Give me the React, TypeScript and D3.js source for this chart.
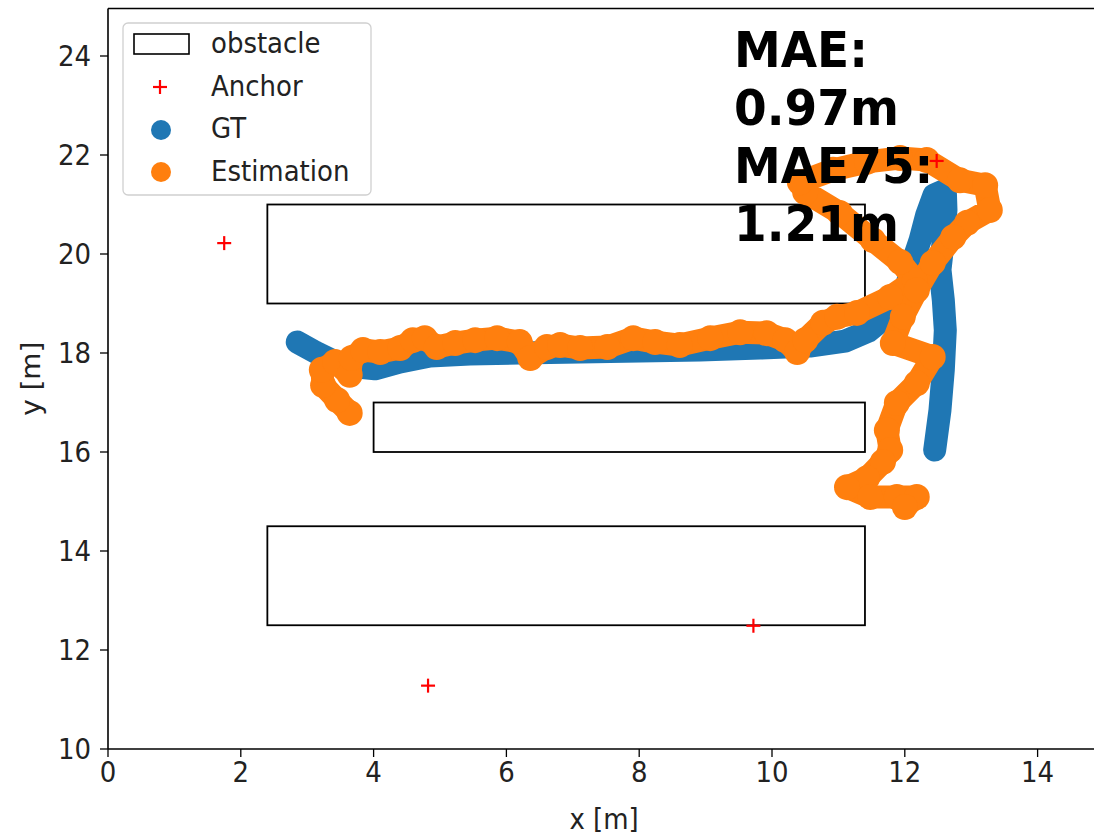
import React from "react";
import * as d3 from "d3";

const xTicks = [0, 2, 4, 6, 8, 10, 12, 14];
const yTicks = [10, 12, 14, 16, 18, 20, 22, 24];

// obstacles, in metres: lower-left corner + size
const obstacleX = [2.4, 4.0, 2.4];
const obstacleY = [19, 16, 12.5];
const obstacleW = [9, 7.4, 9];
const obstacleH = [2, 1, 2];

const anchorX = [1.75, 4.82, 9.72, 12.48];
const anchorY = [20.22, 11.28, 12.49, 21.88];

// ground truth track
const gtX = [2.85, 3.12, 3.42, 3.72, 4.02, 4.4, 4.85, 5.45, 6.2, 7.11, 8.01, 8.92, 9.82, 10.57, 11.1, 11.45, 11.7, 11.88, 12.03, 12.12, 12.23, 12.33, 12.44, 12.61, 12.62, 12.58, 12.53, 12.58, 12.61, 12.58, 12.53, 12.45];
const gtY = [18.22, 18.02, 17.82, 17.72, 17.68, 17.82, 17.94, 17.98, 18.0, 18.02, 18.04, 18.06, 18.1, 18.14, 18.24, 18.44, 18.71, 19.01, 19.37, 19.84, 20.28, 20.79, 21.19, 21.29, 20.89, 20.28, 19.68, 19.07, 18.46, 17.66, 16.85, 16.04];

// estimated track
const estX = [3.64, 3.45, 3.24, 3.22, 3.42, 3.64, 3.67, 3.84, 4.1, 4.4, 4.59, 4.77, 4.95, 5.23, 5.53, 5.86, 6.2, 6.36, 6.61, 6.81, 7.11, 7.52, 7.91, 8.24, 8.61, 9.07, 9.52, 9.92, 10.2, 10.38, 10.5, 10.77, 10.98, 11.28, 11.78, 12.15, 11.93, 11.52, 11.02, 10.5, 10.42, 10.92, 11.43, 11.93, 12.33, 12.83, 13.21, 13.28, 12.94, 12.73, 12.42, 12.18, 11.97, 11.82, 12.42, 12.18, 11.88, 11.73, 11.78, 11.67, 11.43, 11.13, 11.48, 11.88, 12.18, 12.0];
const estY = [16.79, 17.05, 17.35, 17.66, 17.82, 17.56, 17.9, 18.06, 18.02, 18.1, 18.26, 18.3, 18.12, 18.2, 18.26, 18.3, 18.22, 17.9, 18.12, 18.16, 18.1, 18.12, 18.3, 18.22, 18.16, 18.3, 18.42, 18.4, 18.26, 18.02, 18.26, 18.61, 18.73, 18.81, 19.13, 19.47, 19.84, 20.28, 20.83, 21.25, 21.45, 21.7, 21.86, 21.94, 21.9, 21.49, 21.39, 20.89, 20.63, 20.34, 19.82, 19.27, 18.73, 18.2, 17.92, 17.39, 16.99, 16.44, 16.04, 15.8, 15.47, 15.29, 15.09, 15.09, 15.09, 14.89];

const maeLines = ["MAE:", "0.97m", "MAE75:", "1.21m"];
const legendLabels = ["obstacle", "Anchor", "GT", "Estimation"];

const BLUE = "#1f77b4";
const ORANGE = "#ff7f0e";
const FONT = "DejaVu Sans, sans-serif";
const STRETCH = "scale(1,1.07)";

const App = () => {
  const width = 1094;
  const height = 837;

  const x = d3.scaleLinear().domain([0, 15]).range([108, 108 + 15 * 66.4]);
  const y = d3.scaleLinear().domain([10, 24.96]).range([749, 749 - 14.96 * 49.5]);

  const line = d3.line<[number, number]>()
    .x(d => x(d[0]))
    .y(d => y(d[1]));

  const gtPts: [number, number][] = gtX.map((v, i) => [v, gtY[i]]);
  const estPts: [number, number][] = estX.map((v, i) => [v, estY[i]]);

  const [x0, x1] = x.range();
  const [y0, y1] = y.range();

  return (
    <svg width={width} height={height} style={{ position: "absolute", left: 0, top: 0, background: "white" }}
      fontFamily={FONT}>
      {/* obstacles */}
      {obstacleX.map((ox, i) => (
        <rect key={"ob" + i} x={x(ox)} y={y(obstacleY[i] + obstacleH[i])}
          width={x(ox + obstacleW[i]) - x(ox)} height={y(obstacleY[i]) - y(obstacleY[i] + obstacleH[i])}
          fill="none" stroke="black" strokeWidth={1.8} />
      ))}

      {/* GT */}
      <path d={line(gtPts) || ""} fill="none" stroke={BLUE} strokeWidth={23}
        strokeLinecap="round" strokeLinejoin="round" />

      {/* estimation */}
      <path d={line(estPts) || ""} fill="none" stroke={ORANGE} strokeWidth={23}
        strokeLinecap="round" strokeLinejoin="round" />
      {estPts.map((p, i) => (
        <circle key={"e" + i} cx={x(p[0])} cy={y(p[1])} r={13} fill={ORANGE} />
      ))}

      {/* anchors */}
      {anchorX.map((ax, i) => (
        <g key={"a" + i} transform={`translate(${x(ax)},${y(anchorY[i])})`} stroke="red" strokeWidth={2.2}>
          <line x1={-7} x2={7} y1={0} y2={0} />
          <line x1={0} x2={0} y1={-7} y2={7} />
        </g>
      ))}

      {/* spines */}
      <line x1={x0} x2={x0} y1={y0} y2={y1} stroke="black" strokeWidth={1.6} />
      <line x1={x0} x2={x1} y1={y0} y2={y0} stroke="black" strokeWidth={1.6} />
      <line x1={x0} x2={x1} y1={y1} y2={y1} stroke="black" strokeWidth={1.6} />
      <line x1={x1} x2={x1} y1={y0} y2={y1} stroke="black" strokeWidth={1.6} />

      {/* x axis */}
      {xTicks.map(t => (
        <g key={"xt" + t}>
          <line x1={x(t)} x2={x(t)} y1={y0} y2={y0 + 8} stroke="black" strokeWidth={1.3} />
          <text transform={`translate(${x(t)},${y0 + 33}) ${STRETCH}`} textAnchor="middle" fontSize={26} fill="#222">{t}</text>
        </g>
      ))}
      <text transform={`translate(604,829) ${STRETCH}`} textAnchor="middle" fontSize={26} fill="#222">x [m]</text>

      {/* y axis */}
      {yTicks.map(t => (
        <g key={"yt" + t}>
          <line x1={x0 - 8} x2={x0} y1={y(t)} y2={y(t)} stroke="black" strokeWidth={1.3} />
          <text transform={`translate(${x0 - 17},${y(t) + 10}) ${STRETCH}`} textAnchor="end" fontSize={26} fill="#222">{t}</text>
        </g>
      ))}
      <text transform={`translate(40,${(y0 + y1) / 2}) rotate(-90) scale(1.07,1)`} textAnchor="middle" fontSize={26} fill="#222">y [m]</text>

      {/* legend */}
      <rect x={123} y={23} width={248} height={172} rx={5} fill="white" fillOpacity={0.8} stroke="#d0d0d0" strokeWidth={1.3} />
      <rect x={134} y={34} width={55} height={20} fill="none" stroke="black" strokeWidth={1.6} />
      <g transform="translate(160,87)" stroke="red" strokeWidth={2.2}>
        <line x1={-7} x2={7} y1={0} y2={0} />
        <line x1={0} x2={0} y1={-7} y2={7} />
      </g>
      <circle cx={161} cy={130} r={10} fill={BLUE} />
      <circle cx={161} cy={172} r={10} fill={ORANGE} />
      {legendLabels.map((l, i) => (
        <text key={l} transform={`translate(211,${53 + i * 42.5}) ${STRETCH}`} fontSize={26} fill="#222">{l}</text>
      ))}

      {/* MAE annotation */}
      {maeLines.map((l, i) => (
        <text key={l} transform={`translate(734,${67 + i * 58}) ${STRETCH}`} fontSize={47} fontWeight="bold" fill="black">{l}</text>
      ))}
    </svg>
  );
};

export default App;
